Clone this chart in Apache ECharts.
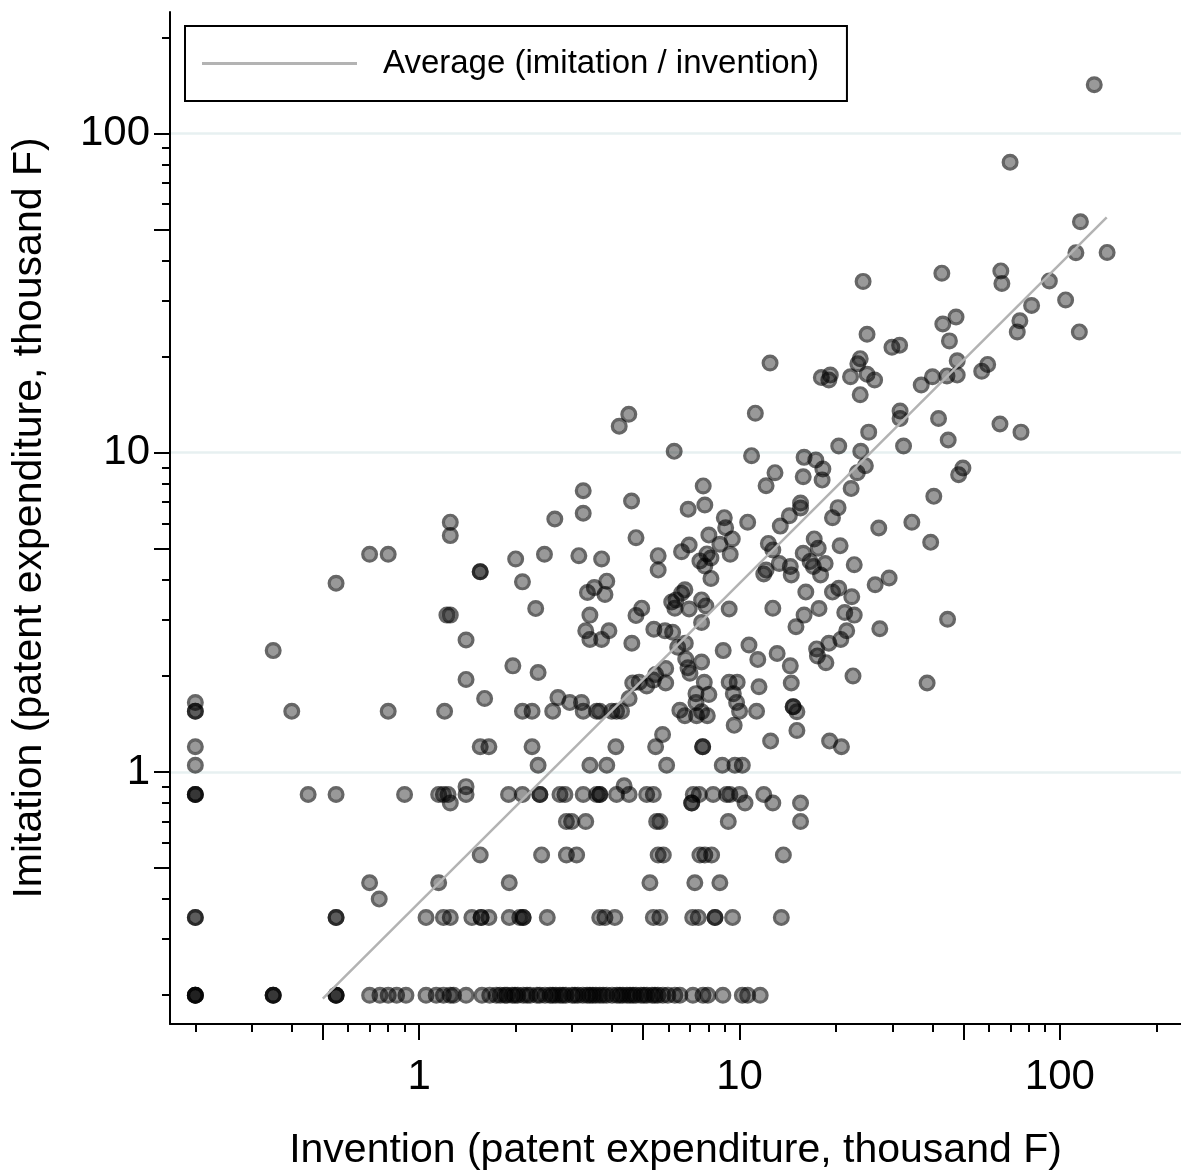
<!DOCTYPE html>
<html>
<head>
<meta charset="utf-8">
<script src="https://cdn.jsdelivr.net/npm/echarts@6/dist/echarts.min.js"></script>
<style>
  html, body { margin: 0; padding: 0; background: #ffffff; }
  #chart { width: 1181px; height: 1176px; }
</style>
</head>
<body>
<div id="chart"></div>
<script>
// ---- axis ranges (thousand F) and tick positions ----
const inventionRange = [0.1667, 238.8];
const imitationRange = [0.1625, 240];
const labelledTicks = [1, 10, 100];
const halfDecadeTicks = [0.5, 5, 50];
const minorTicks = [0.2, 0.3, 0.4, 0.6, 0.7, 0.8, 0.9, 2, 3, 4, 6, 7, 8, 9,
                    20, 30, 40, 60, 70, 80, 90, 200];

// ---- average ratio line (imitation / invention) ----
const avgLineInvention = [0.5, 140];
const avgLineImitation = [0.195, 54.6];
const avgLineName = 'Average (imitation / invention)';

// ---- firms: [invention, imitation] ----
const firmsLarge = [
  [128, 142], [69.9, 81.2], [115.9, 52.9], [112.2, 42.3], [140.4, 42.4], [42.8, 36.5],
  [65.4, 37.1], [65.9, 33.9], [92.7, 34.5], [24.3, 34.4], [104.2, 30.1], [81.6, 28.9],
  [75.0, 25.9], [73.6, 23.9], [115, 23.9], [43.1, 25.3], [47.4, 26.6], [45.2, 22.4],
  [25.0, 23.5], [29.9, 21.4], [31.6, 21.7], [12.45, 19.1], [47.8, 19.4], [57.0, 18.0],
  [59.5, 18.9], [47.8, 17.5], [44.4, 17.4], [40.0, 17.3], [36.9, 16.3], [23.8, 19.7],
  [23.4, 19.0], [25.0, 17.6], [26.4, 16.9], [22.2, 17.3], [18.0, 17.2], [19.2, 17.5],
  [19.0, 16.9], [23.8, 15.2]
];

const firmsUpperMid = [
  [31.7, 13.5], [31.7, 12.8], [41.8, 12.8], [65.0, 12.3], [75.6, 11.6], [25.3, 11.6],
  [44.8, 10.96], [20.4, 10.5], [23.9, 10.1], [32.5, 10.5], [15.9, 9.67], [17.3, 9.49],
  [18.2, 8.89], [24.7, 9.11], [23.3, 8.66], [15.8, 8.41], [18.1, 8.21], [49.8, 8.96],
  [48.3, 8.53], [22.3, 7.72], [40.4, 7.30], [20.3, 6.73], [19.5, 6.26], [15.5, 6.96],
  [15.5, 6.71], [27.2, 5.81], [34.5, 6.06], [39.5, 5.24], [17.1, 5.37], [20.6, 5.11],
  [17.6, 5.02], [15.8, 4.84], [18.5, 4.50], [17.0, 4.40], [17.9, 4.14], [16.6, 4.56],
  [22.8, 4.46], [29.3, 4.05], [26.5, 3.86], [20.4, 3.76], [19.5, 3.66], [22.4, 3.54],
  [16.1, 3.66], [17.7, 3.25], [21.3, 3.16], [22.8, 3.10], [15.9, 3.10], [44.6, 3.01],
  [27.4, 2.81], [21.6, 2.77], [20.7, 2.60], [19.0, 2.53], [15.0, 2.85], [17.4, 2.43],
  [17.5, 2.31], [18.6, 2.20], [14.4, 2.15], [22.6, 2.00], [38.5, 1.90], [14.5, 1.90],
  [14.7, 1.60], [14.7, 1.60], [15.1, 1.545], [15.1, 1.35], [19.1, 1.25], [20.8, 1.20],
  [15.5, 0.80], [15.5, 0.70]
];

const firmsCentre = [
  [4.51, 13.2], [4.21, 12.1], [11.2, 13.3], [6.25, 10.1], [10.9, 9.79], [12.9, 8.66],
  [12.1, 7.88], [7.70, 7.87], [3.25, 7.60], [4.60, 7.06], [3.25, 6.46], [6.91, 6.65],
  [7.79, 6.86], [2.65, 6.20], [8.96, 6.26], [9.05, 5.82], [10.6, 6.06], [14.3, 6.35],
  [13.4, 5.89], [8.02, 5.52], [4.75, 5.42], [6.96, 5.14], [6.59, 4.90], [8.68, 5.17],
  [9.49, 5.37], [9.35, 4.81], [7.91, 4.82], [7.52, 4.58], [7.79, 4.42], [8.14, 4.68],
  [8.14, 4.04], [12.3, 5.20], [12.7, 4.96], [13.3, 4.50], [12.1, 4.29], [11.9, 4.17],
  [14.4, 4.40], [14.5, 4.14], [5.57, 4.76], [5.57, 4.29], [3.71, 4.65], [3.15, 4.76],
  [2.46, 4.81], [2.00, 4.65], [2.10, 3.94], [3.85, 3.96], [3.52, 3.78], [3.35, 3.65],
  [3.80, 3.60], [2.31, 3.25], [3.41, 3.10], [4.95, 3.26], [4.75, 3.09], [6.14, 3.41],
  [6.59, 3.63], [6.75, 3.72], [6.33, 3.46], [6.28, 3.26], [6.96, 3.24], [7.61, 3.46],
  [7.85, 3.31], [9.28, 3.24], [7.61, 2.94], [12.7, 3.26], [3.31, 2.77], [3.41, 2.60],
  [3.71, 2.60], [3.91, 2.77], [5.40, 2.80], [5.85, 2.77], [6.18, 2.74]
];

const firmsLowerMid = [
  [4.61, 2.53], [6.41, 2.46], [6.77, 2.53], [8.89, 2.40], [10.7, 2.50], [13.1, 2.35],
  [11.4, 2.25], [1.96, 2.15], [2.35, 2.05], [6.79, 2.26], [7.61, 2.21], [6.90, 2.12],
  [7.00, 2.04], [5.88, 2.11], [5.47, 2.02], [5.88, 1.90], [5.38, 1.94], [5.13, 1.86],
  [4.86, 1.91], [4.64, 1.90], [4.52, 1.70], [2.71, 1.71], [2.95, 1.65], [3.21, 1.65],
  [2.10, 1.55], [2.25, 1.55], [2.61, 1.55], [3.25, 1.55], [3.58, 1.55], [3.66, 1.55],
  [3.99, 1.55], [4.13, 1.55], [4.28, 1.55], [7.76, 1.91], [7.31, 1.76], [8.02, 1.75],
  [7.31, 1.65], [6.51, 1.56], [6.75, 1.50], [7.34, 1.50], [7.61, 1.545], [7.93, 1.50],
  [9.28, 1.91], [9.83, 1.91], [9.56, 1.76], [9.79, 1.65], [10.0, 1.55], [9.62, 1.40],
  [11.5, 1.85], [11.3, 1.55], [12.5, 1.25], [5.75, 1.31], [5.47, 1.20], [7.67, 1.20],
  [7.67, 1.20], [2.25, 1.20], [4.11, 1.20], [2.35, 1.05], [3.41, 1.05], [3.85, 1.05],
  [5.92, 1.05], [8.83, 1.05], [9.67, 1.05], [10.2, 1.05]
];

const firmsBelowOne = [
  [1.90, 0.85], [2.10, 0.85], [2.38, 0.85], [2.38, 0.85], [2.75, 0.85], [2.85, 0.85],
  [3.25, 0.85], [3.58, 0.85], [3.66, 0.85], [3.66, 0.85], [4.13, 0.85], [4.52, 0.85],
  [5.13, 0.85], [5.38, 0.85], [7.17, 0.85], [7.48, 0.85], [8.27, 0.85], [9.11, 0.85],
  [9.33, 0.85], [10.0, 0.85], [11.9, 0.85], [4.36, 0.906],
  [10.4, 0.80], [12.7, 0.80], [7.09, 0.80], [7.09, 0.80],
  [2.88, 0.70], [2.99, 0.70], [3.31, 0.70], [5.51, 0.70], [5.64, 0.70], [9.22, 0.70],
  [2.41, 0.55], [2.88, 0.55], [3.10, 0.55], [5.57, 0.55], [5.78, 0.55], [7.52, 0.55],
  [7.79, 0.55], [8.18, 0.55], [13.7, 0.55],
  [1.91, 0.45], [5.25, 0.45], [7.25, 0.45], [8.68, 0.45],
  [1.91, 0.35], [2.06, 0.35], [2.11, 0.35], [2.11, 0.35], [2.51, 0.35], [3.66, 0.35],
  [3.80, 0.35], [4.08, 0.35], [5.38, 0.35], [5.64, 0.35], [7.14, 0.35], [7.43, 0.35],
  [8.38, 0.35], [8.38, 0.35], [9.51, 0.35], [13.5, 0.35]
];

const firmsFloorX = [
  1.79, 1.85, 1.88, 1.95, 1.99, 2.03, 2.11, 2.17, 2.22, 2.33, 2.38, 2.47, 2.56, 2.61,
  2.67, 2.75, 2.81, 2.87, 3.00, 3.06, 3.13, 3.24, 3.34, 3.41, 3.48, 3.56, 3.66, 3.75,
  3.85, 4.00, 4.14, 4.23, 4.32, 4.45, 4.55, 4.65, 4.75, 4.92, 5.03, 5.14, 5.33, 5.44,
  5.56, 5.76, 5.97, 6.28, 6.51, 7.15, 7.69, 7.96, 8.87, 10.2, 10.6, 11.6,
  0.2, 0.2, 0.2, 0.2, 0.35, 0.35, 0.35, 0.55, 0.55, 0.55, 0.70, 0.754, 0.80, 0.85,
  0.909, 1.05, 1.13, 1.19, 1.25, 1.28, 1.40, 1.57, 1.66, 1.74
];
const floorImitation = 0.2;

const firmsSmallInvention = [
  [0.70, 0.45], [0.75, 0.40], [1.15, 0.45], [1.55, 0.55],
  [0.2, 0.35], [0.2, 0.35], [0.55, 0.35], [0.55, 0.35], [1.05, 0.35], [1.19, 0.35],
  [1.25, 0.35], [1.46, 0.35], [1.56, 0.35], [1.56, 0.35], [1.65, 0.35],
  [0.35, 2.40], [1.40, 2.59], [1.40, 1.95], [1.60, 1.70], [0.2, 1.65], [0.2, 1.55],
  [0.2, 1.55], [0.40, 1.55], [0.80, 1.55], [1.20, 1.55], [1.55, 1.20], [1.65, 1.20],
  [0.2, 1.20], [0.2, 1.05], [0.2, 0.85], [0.2, 0.85], [0.2, 0.85], [0.45, 0.85],
  [0.55, 0.85], [0.90, 0.85], [1.15, 0.85], [1.19, 0.85], [1.23, 0.85], [1.25, 0.80],
  [1.40, 0.90], [1.40, 0.85],
  [1.25, 6.06], [1.25, 5.50], [0.70, 4.81], [0.80, 4.81], [0.55, 3.90], [1.55, 4.24],
  [1.55, 4.24], [1.22, 3.10], [1.25, 3.10]
];

// ---- build plotting data on log10 scales ----
const lg = v => Math.log10(v);
const allFirms = [].concat(
  firmsLarge, firmsUpperMid, firmsCentre, firmsLowerMid, firmsBelowOne,
  firmsFloorX.map(x => [x, floorImitation]), firmsSmallInvention
);
const firmData = allFirms.map(p => [lg(p[0]), lg(p[1])]);
const avgData = avgLineInvention.map((x, i) => [lg(x), lg(avgLineImitation[i])]);

const FONT = '"Liberation Sans", Arial, Helvetica, sans-serif';
const RING = 'path://M0,8A8,8,0,1,1,16,8A8,8,0,1,1,0,8ZM3,8A5,5,0,1,0,13,8A5,5,0,1,0,3,8Z';
const LINE_GREY = '#b3b3b3';

const tickLine = { color: '#000', width: 2 };
function hiddenAxis(range, extra) {
  return Object.assign({
    type: 'value',
    min: lg(range[0]),
    max: lg(range[1]),
    axisLine: { show: false, onZero: false },
    axisLabel: { show: false },
    splitLine: { show: false },
    axisTick: { show: false }
  }, extra);
}
const fmtPow = v => String(Math.round(Math.pow(10, v)));

const option = {
  animation: false,
  backgroundColor: '#ffffff',
  textStyle: { fontFamily: FONT },
  grid: { left: 170, right: 0, top: 12, bottom: 152 },
  legend: {
    left: 185,
    top: 26,
    data: [{ name: avgLineName, icon: 'rect', itemStyle: { color: LINE_GREY } }],
    selectedMode: false,
    itemWidth: 155,
    itemHeight: 3,
    padding: [21, 28, 21, 17],
    borderColor: '#000',
    borderWidth: 2,
    textStyle: { fontSize: 33, color: '#000', fontFamily: FONT, padding: [0, 0, 0, 21] }
  },
  xAxis: [
    hiddenAxis(inventionRange, {
      position: 'bottom',
      axisLine: { show: true, onZero: false, lineStyle: tickLine },
      axisTick: { show: true, length: 16, lineStyle: tickLine,
                  customValues: halfDecadeTicks.concat(labelledTicks).map(lg) },
      axisLabel: { show: true, customValues: labelledTicks.map(lg), formatter: fmtPow,
                   fontSize: 42, color: '#000', margin: 32, fontFamily: FONT },
      name: 'Invention (patent expenditure, thousand F)',
      nameLocation: 'middle',
      nameGap: 106,
      nameTextStyle: { fontSize: 41, color: '#000', fontFamily: FONT }
    }),
    hiddenAxis(inventionRange, {
      position: 'bottom',
      axisTick: { show: true, length: 8, lineStyle: tickLine, customValues: minorTicks.map(lg) }
    })
  ],
  yAxis: [
    hiddenAxis(imitationRange, {
      position: 'left',
      axisLine: { show: true, onZero: false, lineStyle: tickLine },
      axisTick: { show: true, length: 16, lineStyle: tickLine, customValues: labelledTicks.map(lg) },
      axisLabel: { show: true, customValues: labelledTicks.map(lg), formatter: fmtPow,
                   fontSize: 42, color: '#000', margin: 20, fontFamily: FONT },
      splitLine: { show: true, lineStyle: { color: '#e7f0f1', width: 2.5 } },
      name: 'Imitation (patent expenditure, thousand F)',
      nameLocation: 'middle',
      nameGap: 120,
      nameTextStyle: { fontSize: 41, color: '#000', fontFamily: FONT }
    }),
    hiddenAxis(imitationRange, {
      position: 'left',
      axisTick: { show: true, length: 16, lineStyle: tickLine, customValues: halfDecadeTicks.map(lg) }
    }),
    hiddenAxis(imitationRange, {
      position: 'left',
      axisTick: { show: true, length: 8, lineStyle: tickLine, customValues: minorTicks.map(lg) }
    })
  ],
  series: [
    {
      type: 'scatter',
      data: firmData,
      symbol: RING,
      symbolSize: 17,
      itemStyle: { color: 'rgba(0,0,0,0.75)' },
      silent: true,
      z: 2
    },
    {
      type: 'scatter',
      data: firmData,
      symbol: 'circle',
      symbolSize: 11,
      itemStyle: { color: 'rgba(0,0,0,0.5)' },
      silent: true,
      z: 2
    },
    {
      type: 'line',
      name: avgLineName,
      data: avgData,
      symbol: 'none',
      lineStyle: { color: LINE_GREY, width: 2.5 },
      itemStyle: { color: LINE_GREY },
      silent: true,
      z: 3
    }
  ]
};

const chart = echarts.init(document.getElementById('chart'), null, { renderer: 'canvas' });
chart.setOption(option);
</script>
</body>
</html>
